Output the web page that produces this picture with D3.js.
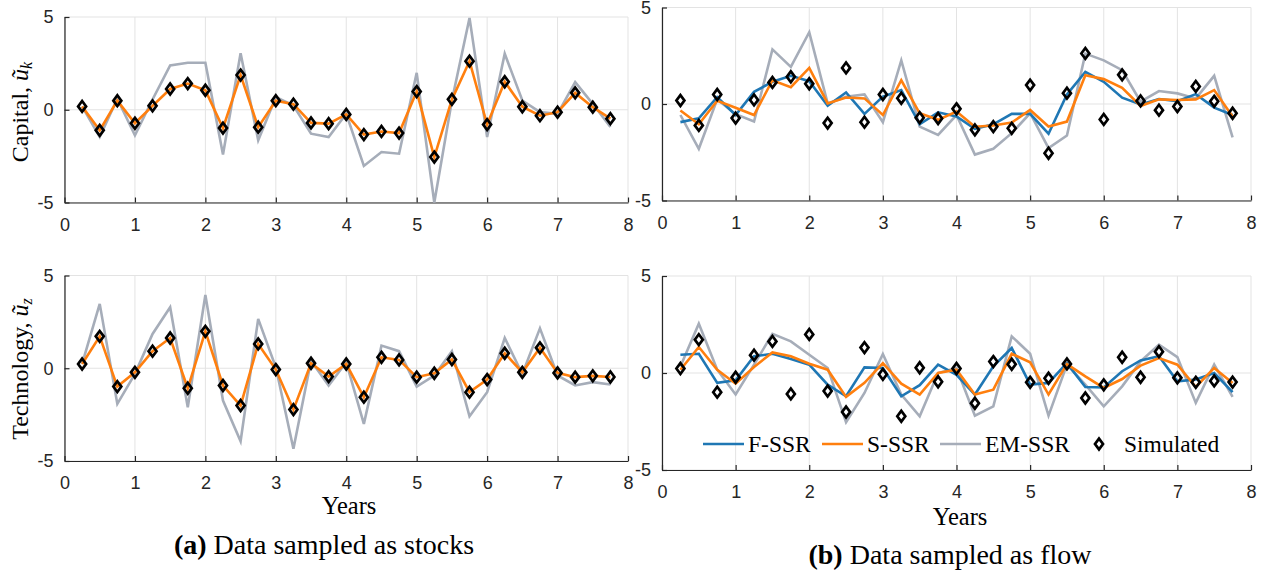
<!DOCTYPE html>
<html>
<head>
<meta charset="utf-8">
<script src="https://cdn.jsdelivr.net/npm/d3@7"></script>
<style>
  body { margin: 0; background: #fff; }
  .tick-label { font-family: "Liberation Sans", Arial, sans-serif; font-size: 18px; fill: #262626; }
  .serif { font-family: "Liberation Serif", "Times New Roman", serif; fill: #000; }
</style>
</head>
<body>
<svg id="chart" width="1273" height="575"></svg>
<script>
var years = [0.25, 0.5, 0.75, 1, 1.25, 1.5, 1.75, 2, 2.25, 2.5, 2.75, 3, 3.25, 3.5, 3.75, 4,
             4.25, 4.5, 4.75, 5, 5.25, 5.5, 5.75, 6, 6.25, 6.5, 6.75, 7, 7.25, 7.5, 7.75];

// simulated shocks (same in both sampling schemes)
var simCapital = [0.18, -1.11, 0.49, -0.73, 0.21, 1.12, 1.41, 1.05, -0.99, 1.87, -0.94, 0.49, 0.30, -0.71, -0.75, -0.25,
                  -1.34, -1.17, -1.26, 0.98, -2.55, 0.56, 2.62, -0.80, 1.51, 0.16, -0.32, -0.13, 0.91, 0.14, -0.48];
var simTech = [0.23, 1.72, -0.99, -0.22, 0.92, 1.63, -1.08, 1.99, -0.93, -2.01, 1.31, -0.07, -2.23, 0.27, -0.45, 0.23,
               -1.56, 0.59, 0.45, -0.48, -0.27, 0.47, -1.29, -0.61, 0.81, -0.22, 1.10, -0.25, -0.48, -0.41, -0.47];

// (a) stocks
var sStockCap = [0.18, -1.11, 0.49, -0.73, 0.21, 1.12, 1.41, 1.05, -0.99, 1.87, -0.94, 0.49, 0.30, -0.71, -0.75, -0.25,
                 -1.34, -1.17, -1.26, 0.98, -2.55, 0.56, 2.62, -0.80, 1.51, 0.16, -0.32, -0.13, 0.91, 0.14, -0.48];
var emStockCap = [0.18, -1.47, 0.59, -1.38, 0.55, 2.39, 2.53, 2.53, -2.41, 3.05, -1.65, 0.68, 0.23, -1.29, -1.47, -0.22,
                  -3.03, -2.28, -2.37, 1.99, -5.0, 0.5, 4.95, -1.47, 3.02, 0.5, -0.13, -0.22, 1.49, 0.32, -0.93];
var sStockTech = [0.23, 1.72, -0.99, -0.22, 0.92, 1.63, -1.08, 1.99, -0.93, -2.01, 1.31, -0.07, -2.23, 0.27, -0.45, 0.23,
                  -1.56, 0.59, 0.45, -0.48, -0.27, 0.47, -1.29, -0.61, 0.81, -0.22, 1.10, -0.25, -0.48, -0.41, -0.47];
var emStockTech = [0.23, 3.47, -1.92, -0.3, 1.85, 3.29, -2.10, 3.95, -1.74, -3.93, 2.66, 0.05, -4.34, 0.41, -0.93, 0.32,
                   -3.0, 1.22, 0.92, -0.99, -0.39, 0.92, -2.59, -1.29, 1.63, -0.31, 2.15, -0.39, -0.93, -0.75, -0.88];

// (b) flow
var fFlowCap = [-0.94, -0.74, 0.35, -0.57, 0.63, 1.15, 1.46, 1.18, -0.09, 0.60, -0.51, 0.38, 0.72, -1.05, -0.43, -0.65,
                -1.29, -1.05, -0.51, -0.51, -1.54, 0.50, 1.66, 1.15, 0.33, -0.02, 0.26, 0.15, 0.51, -0.19, -0.57];
var sFlowCap = [-0.34, -1.05, 0.17, -0.19, -0.57, 1.23, 0.87, 1.87, 0.03, 0.34, 0.29, -0.57, 1.23, -0.48, -0.82, -0.39,
                -1.18, -1.11, -0.96, -0.31, -1.17, -0.91, 1.49, 1.29, 0.84, -0.10, 0.24, 0.21, 0.24, 0.72, -0.65];
var emFlowCap = [-0.57, -2.32, 0.24, -0.53, -0.91, 2.83, 1.92, 3.72, 0.03, 0.38, 0.50, -0.94, 2.26, -1.17, -1.60, -0.57,
                 -2.62, -2.32, -1.51, -0.48, -2.28, -1.63, 2.61, 2.26, 1.75, 0.12, 0.67, 0.55, 0.29, 1.46, -1.73];
var fFlowTech = [0.94, 0.99, -0.51, -0.38, 0.86, 0.99, 0.72, 0.43, -0.60, -1.20, 0.29, 0.26, -1.20, -0.63, 0.43, -0.09,
                 -1.11, 0.34, 1.29, -0.60, -0.51, 0.51, -0.72, -0.74, 0.09, 0.65, 0.86, -0.43, -0.34, 0.0, -0.99];
var sFlowTech = [0.17, 1.34, 0.17, -0.55, 0.31, 1.06, 0.86, 0.48, 0.17, -1.23, -0.51, 0.51, -0.55, -1.11, 0.0, 0.17,
                 -1.11, -0.86, 0.99, 0.55, -1.11, 0.46, -0.17, -0.77, -0.31, 0.38, 0.77, 0.43, -0.72, 0.26, -0.51];
var emFlowTech = [0.34, 2.54, 0.17, -1.11, 0.43, 2.02, 1.63, 0.94, 0.26, -2.54, -1.03, 0.98, -1.11, -2.23, 0.0, 0.26,
                  -2.20, -1.72, 1.89, 0.99, -2.20, 0.43, -0.60, -1.72, -0.69, 0.60, 1.46, 0.82, -1.54, 0.43, -1.23];

var xTicks = [0, 1, 2, 3, 4, 5, 6, 7, 8];
var yTicks = [-5, 0, 5];
var seriesNames = ["F-SSR", "S-SSR", "EM-SSR", "Simulated"];

var colors = { f: "#1f77b4", s: "#ff7f0e", em: "#a6adb9" };
var lw = 2.6;

var svg = d3.select("#chart");

function diamond(x, y) {
  var w = 4, h = 5.4;
  return "M" + x + "," + (y - h) + "L" + (x + w) + "," + y + "L" + x + "," + (y + h) + "L" + (x - w) + "," + y + "Z";
}

function panel(box, lines, sim) {
  var x = d3.scaleLinear().domain([0, 8]).range([box.x0, box.x1]);
  var y = d3.scaleLinear().domain([-5, 5]).range([box.y1, box.y0]);
  var g = svg.append("g");

  // grid
  g.selectAll(".gx").data(xTicks).enter().append("line")
    .attr("x1", function(d) { return x(d); }).attr("x2", function(d) { return x(d); })
    .attr("y1", box.y0).attr("y2", box.y1)
    .attr("stroke", "#e3e3e3").attr("stroke-width", 1);
  g.selectAll(".gy").data(yTicks).enter().append("line")
    .attr("x1", box.x0).attr("x2", box.x1)
    .attr("y1", function(d) { return y(d); }).attr("y2", function(d) { return y(d); })
    .attr("stroke", "#e3e3e3").attr("stroke-width", 1);

  // axes with inward ticks
  var fmt = function(d) { return String(d); };
  var xa = g.append("g").attr("transform", "translate(0," + box.y1 + ")")
    .call(d3.axisBottom(x).tickValues(xTicks).tickFormat(fmt).tickSizeInner(-5).tickSizeOuter(0).tickPadding(12));
  var ya = g.append("g").attr("transform", "translate(" + box.x0 + ",0)")
    .call(d3.axisLeft(y).tickValues(yTicks).tickFormat(fmt).tickSizeInner(-5).tickSizeOuter(0).tickPadding(11));
  [xa, ya].forEach(function(a) {
    a.select(".domain").attr("stroke", "#262626").attr("stroke-width", 1.2);
    a.selectAll(".tick line").attr("stroke", "#262626").attr("stroke-width", 1.2);
    a.selectAll("text").attr("class", "tick-label").attr("fill", null).style("font-size", null).style("font-family", null);
  });
  xa.selectAll("text").attr("dy", "0.9em");

  var line = d3.line().x(function(d, i) { return x(years[i]); }).y(function(d) { return y(d); });
  lines.forEach(function(l) {
    g.append("path").datum(l.values)
      .attr("d", line)
      .attr("fill", "none")
      .attr("stroke", l.color)
      .attr("stroke-width", lw)
      .attr("stroke-linejoin", "miter");
  });

  g.selectAll(".sim").data(sim).enter().append("path")
    .attr("d", function(d, i) { return diamond(x(years[i]), y(d)); })
    .attr("fill", "none")
    .attr("stroke", "#000")
    .attr("stroke-width", 2.7);
  return { x: x, y: y };
}

var boxA1 = { x0: 64.5, x1: 628, y0: 17, y1: 202.5 };
var boxA2 = { x0: 64.5, x1: 628, y0: 275.5, y1: 461 };
var boxB1 = { x0: 662, x1: 1251, y0: 7.5, y1: 200.5 };
var boxB2 = { x0: 662, x1: 1251, y0: 276, y1: 470 };

panel(boxA1, [{ values: emStockCap, color: colors.em }, { values: sStockCap, color: colors.s }], simCapital);
panel(boxA2, [{ values: emStockTech, color: colors.em }, { values: sStockTech, color: colors.s }], simTech);
panel(boxB1, [{ values: emFlowCap, color: colors.em }, { values: fFlowCap, color: colors.f }, { values: sFlowCap, color: colors.s }], simCapital);
panel(boxB2, [{ values: emFlowTech, color: colors.em }, { values: fFlowTech, color: colors.f }, { values: sFlowTech, color: colors.s }], simTech);

// y labels
function yLabel(cx, cy, name, sub) {
  var t = svg.append("text").attr("class", "serif")
    .attr("transform", "translate(" + cx + "," + cy + ") rotate(-90)")
    .attr("text-anchor", "middle")
    .style("font-size", "24px");
  t.append("tspan").text(name + ", ");
  t.append("tspan").style("font-style", "italic").text("ũ");
  t.append("tspan").style("font-style", "italic").style("font-size", "16px").attr("dy", 4).text(sub);
}
yLabel(28, 112, "Capital", "k");
yLabel(28, 369, "Technology", "z");

// x labels
svg.append("text").attr("class", "serif").attr("x", 349).attr("y", 514)
  .attr("text-anchor", "middle").style("font-size", "24.5px").text("Years");
svg.append("text").attr("class", "serif").attr("x", 960).attr("y", 525)
  .attr("text-anchor", "middle").style("font-size", "24.5px").text("Years");

// captions
function caption(cx, cy, tag, rest) {
  var t = svg.append("text").attr("class", "serif").attr("x", cx).attr("y", cy)
    .attr("text-anchor", "middle").style("font-size", "28px");
  t.append("tspan").style("font-weight", "bold").text(tag);
  t.append("tspan").text(" " + rest);
}
caption(324, 554, "(a)", "Data sampled as stocks");
caption(950, 564, "(b)", "Data sampled as flow");

// legend
var legend = [
  { name: seriesNames[0], color: colors.f, x: 703 },
  { name: seriesNames[1], color: colors.s, x: 822 },
  { name: seriesNames[2], color: colors.em, x: 940 }
];
var ly = 444;
legend.forEach(function(d) {
  svg.append("line").attr("x1", d.x).attr("x2", d.x + 41).attr("y1", ly).attr("y2", ly)
    .attr("stroke", d.color).attr("stroke-width", lw);
  svg.append("text").attr("class", "serif").attr("x", d.x + 45).attr("y", ly + 8)
    .style("font-size", "23.5px").text(d.name);
});
svg.append("path").attr("d", diamond(1099, ly)).attr("fill", "none").attr("stroke", "#000").attr("stroke-width", 2.7);
svg.append("text").attr("class", "serif").attr("x", 1124).attr("y", ly + 8)
  .style("font-size", "23.5px").text(seriesNames[3]);
</script>
</body>
</html>
